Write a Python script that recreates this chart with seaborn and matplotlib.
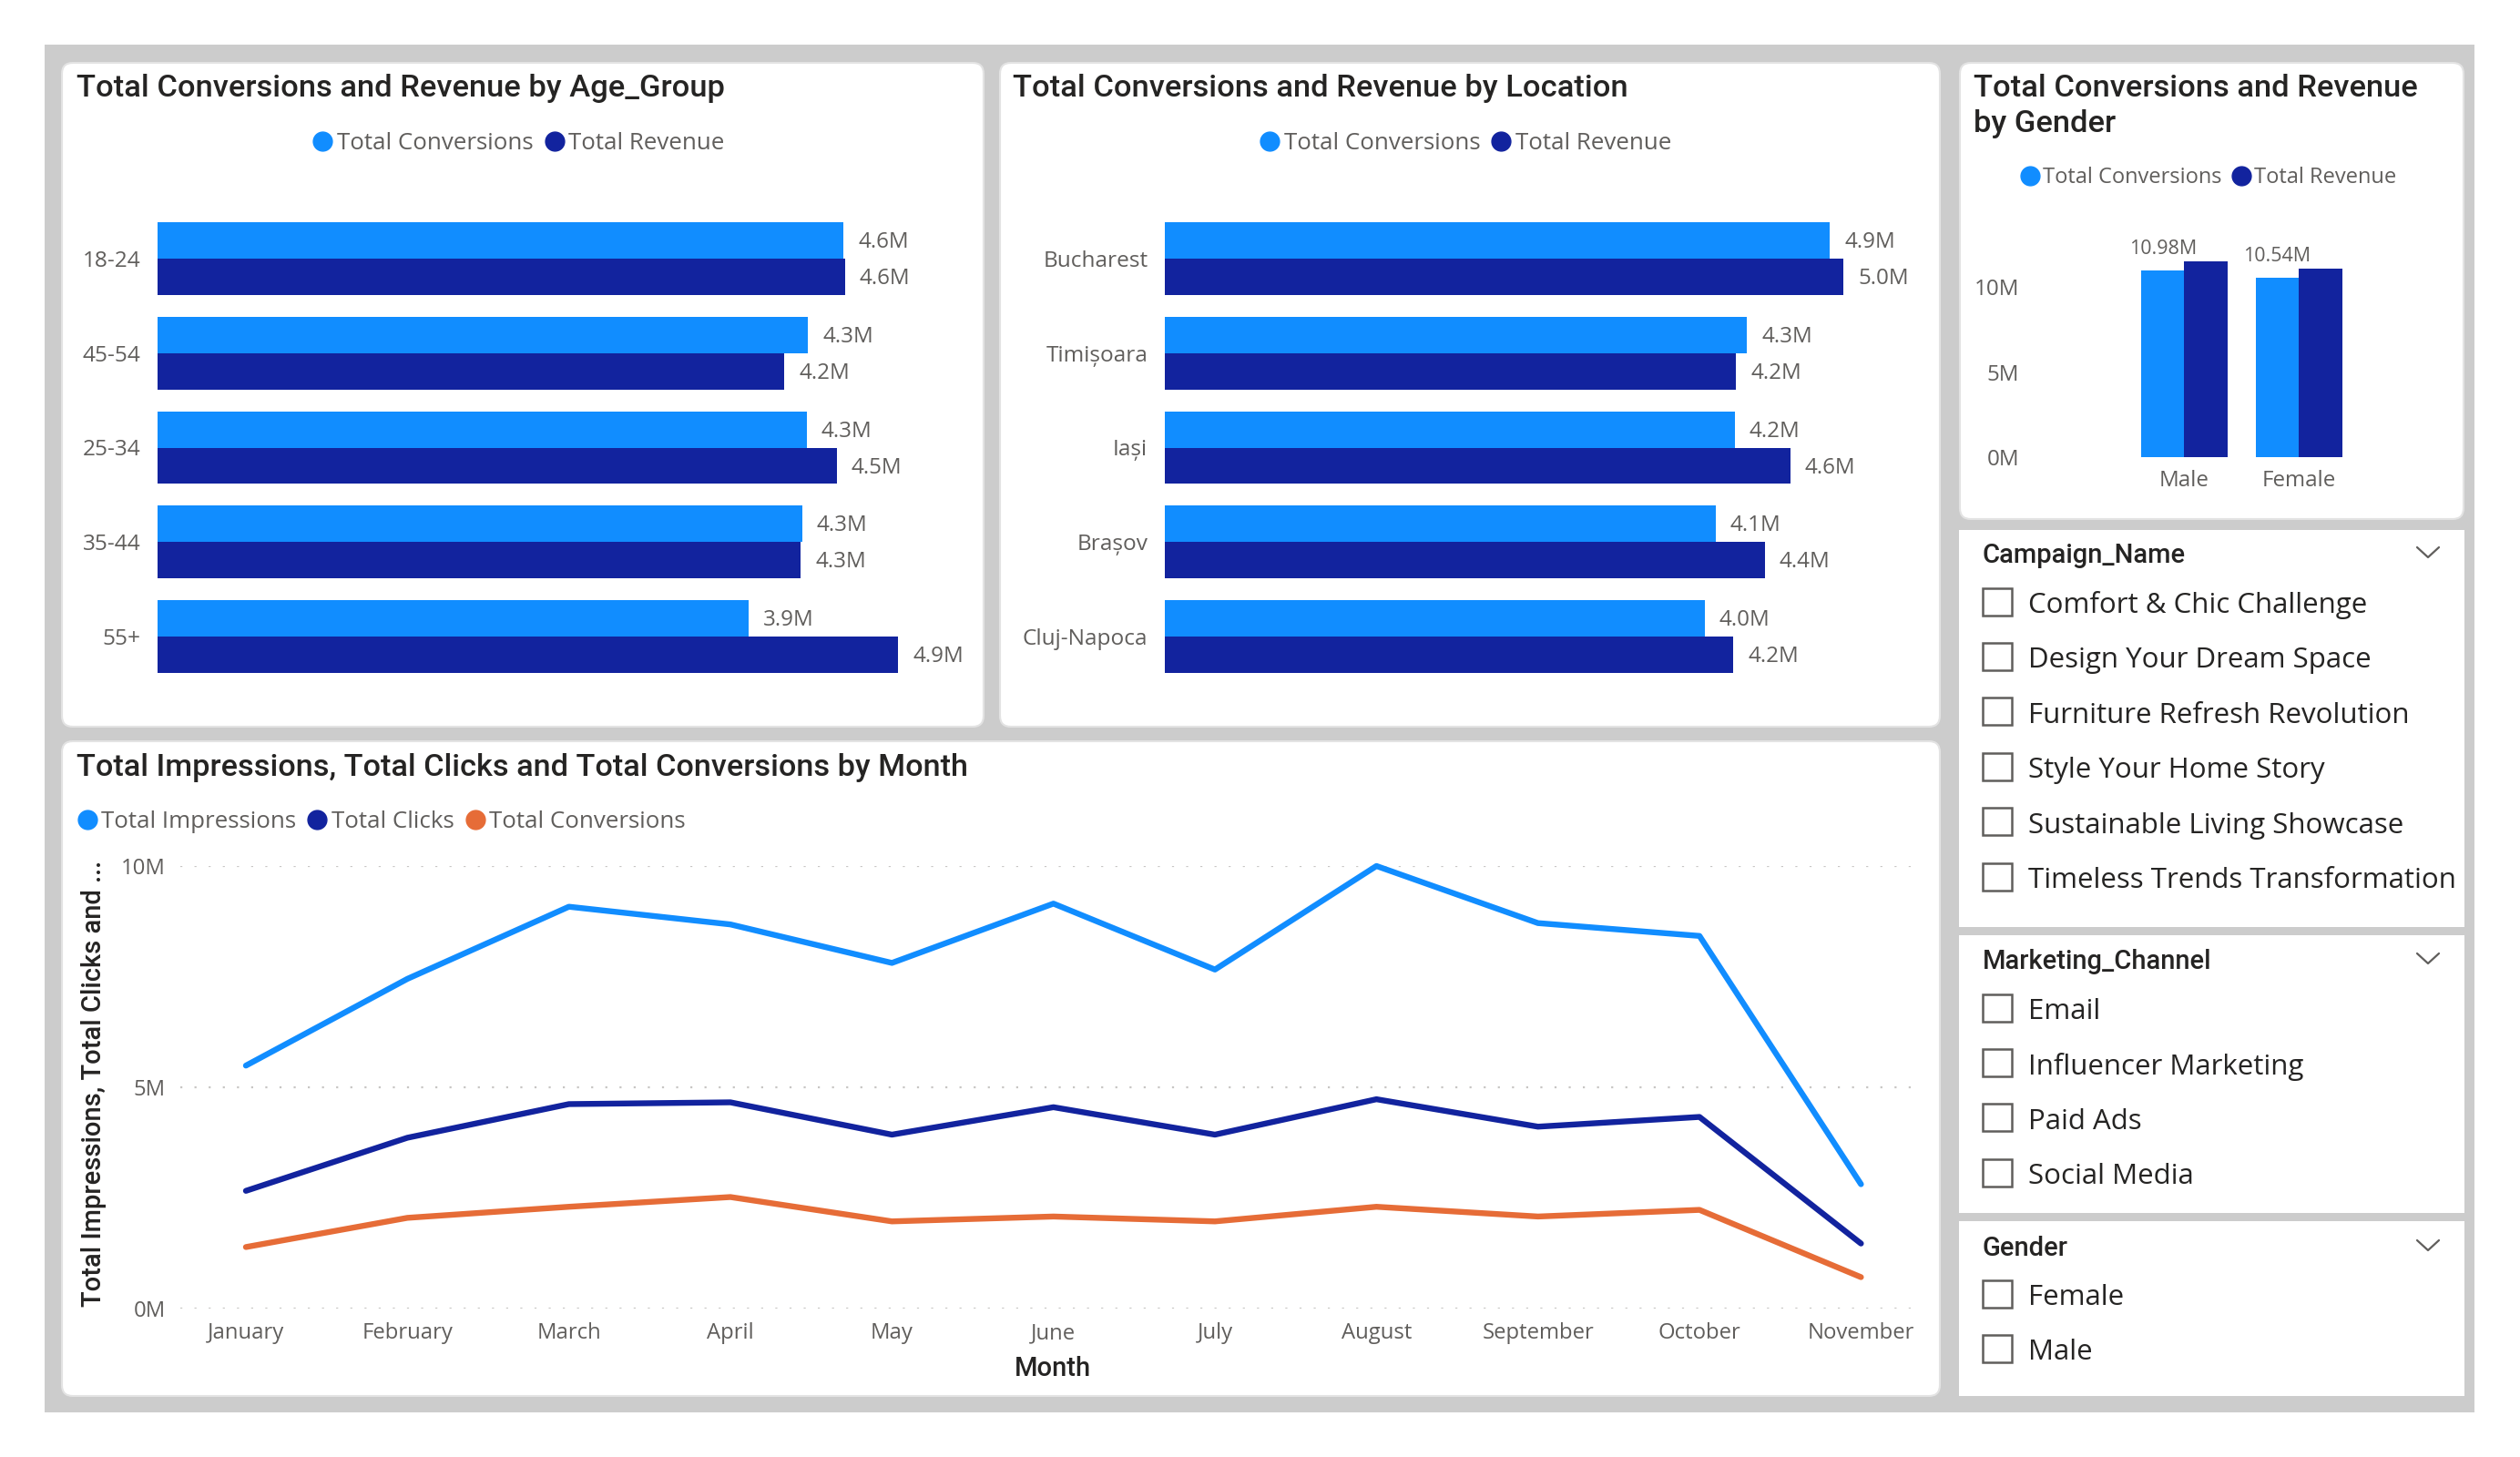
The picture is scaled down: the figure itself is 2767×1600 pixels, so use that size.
import matplotlib
matplotlib.use("Agg")
import matplotlib.pyplot as plt
from matplotlib.patches import Rectangle, FancyBboxPatch
from matplotlib.lines import Line2D
from matplotlib.ticker import FixedLocator, FuncFormatter
import pandas as pd
import seaborn as sns

# ---- data ----
age_groups = ["18-24", "45-54", "25-34", "35-44", "55+"]
age_conversions = [4.575, 4.34, 4.33, 4.30, 3.94]
age_revenue = [4.586, 4.18, 4.53, 4.29, 4.94]

locations = ["Bucharest", "Timișoara", "Iași", "Brașov", "Cluj-Napoca"]
loc_conversions = [4.90, 4.29, 4.20, 4.06, 3.98]
loc_revenue = [5.00, 4.21, 4.61, 4.42, 4.19]

genders = ["Male", "Female"]
gender_conversions = [10.98, 10.54]
gender_revenue = [11.53, 11.10]

months = ["January", "February", "March", "April", "May", "June", "July",
          "August", "September", "October", "November"]
impressions = [5.49, 7.45, 9.08, 8.68, 7.81, 9.15, 7.66, 10.0, 8.71, 8.42, 2.81]
clicks = [2.66, 3.86, 4.62, 4.66, 3.93, 4.55, 3.93, 4.73, 4.11, 4.33, 1.47]
conversions = [1.39, 2.05, 2.30, 2.52, 1.97, 2.08, 1.97, 2.30, 2.08, 2.23, 0.71]

campaign_names = ["Comfort & Chic Challenge", "Design Your Dream Space",
                  "Furniture Refresh Revolution", "Style Your Home Story",
                  "Sustainable Living Showcase", "Timeless Trends Transformation"]
channels = ["Email", "Influencer Marketing", "Paid Ads", "Social Media"]
gender_options = ["Female", "Male"]

# ---- style ----
BLUE, NAVY, ORANGE = "#118DFF", "#12239E", "#E66C37"
GRAY_TXT, DARK_TXT = "#605E5C", "#252423"
TITLE_FONT = ["Roboto", "DejaVu Sans"]
BODY_FONT = ["Open Sans", "DejaVu Sans"]
W, H = 2767, 1600

sns.set_theme(style="white")
plt.rcParams["font.family"] = BODY_FONT
fig = plt.figure(figsize=(W / 100, H / 100), dpi=100, facecolor="white")


def axes_px(x0, y0, x1, y1, **kw):
    return fig.add_axes([x0 / W, 1 - y1 / H, (x1 - x0) / W, (y1 - y0) / H], **kw)


bg = axes_px(0, 0, W, H)
bg.set_xlim(0, W)
bg.set_ylim(H, 0)
bg.axis("off")
bg.add_patch(Rectangle((49, 49), 2668, 1502, fc="#CCCCCC", ec="none"))

for x0, y0, x1, y1 in [(68, 69, 1080, 798), (1098, 69, 2130, 798),
                       (2152, 69, 2705, 570), (68, 814, 2130, 1533)]:
    bg.add_patch(FancyBboxPatch((x0 + 10, y0 + 10), x1 - x0 - 20, y1 - y0 - 20,
                                boxstyle="round,pad=10,rounding_size=12",
                                fc="white", ec="#E3E3E3", lw=1.5))
for x0, y0, x1, y1 in [(2151, 582, 2706, 1018), (2151, 1027, 2706, 1332), (2151, 1341, 2706, 1533)]:
    bg.add_patch(Rectangle((x0, y0), x1 - x0, y1 - y0, fc="white", ec="none"))


def title(x, y, s, size=24.8):
    bg.text(x, y, s, fontsize=size, color=DARK_TXT, family=TITLE_FONT, weight="medium",
            va="center", ha="left")


title(84, 97, "Total Conversions and Revenue by Age_Group")
title(1112, 97, "Total Conversions and Revenue by Location")
title(2167, 97, "Total Conversions and Revenue")
title(2167, 136, "by Gender")
title(84, 843, "Total Impressions, Total Clicks and Total Conversions by Month", size=24.65)


def dot_legend(labels, colors, anchor, loc, size):
    handles = [Line2D([], [], ls="none", marker="o", ms=15, color=c) for c in colors]
    leg = fig.legend(handles, labels, loc=loc, ncol=len(labels), frameon=False,
                     bbox_to_anchor=(anchor[0] / W, 1 - anchor[1] / H),
                     fontsize=size, labelcolor=GRAY_TXT, handletextpad=0.0,
                     columnspacing=0.3, borderpad=0, borderaxespad=0, handlelength=1.2)
    return leg


def hbars(cats, conv, rev, rect, xmax):
    ax = axes_px(*rect)
    df = pd.DataFrame({"cat": cats * 2, "value": list(conv) + list(rev),
                       "series": ["Total Conversions"] * len(cats) + ["Total Revenue"] * len(cats)})
    sns.barplot(df, y="cat", x="value", hue="series", order=cats,
                hue_order=["Total Conversions", "Total Revenue"],
                palette=[BLUE, NAVY], saturation=1, width=0.77, gap=0, legend=False,
                linewidth=0, ax=ax)
    for cont in ax.containers:
        for txt in ax.bar_label(cont, fmt=lambda v: f"{v:.1f}M", padding=11.5, fontsize=17.4, color=GRAY_TXT):
            txt.xyann = (11.5, -1.5)
    ax.set_xlim(0, xmax)
    ax.set_ylim(len(cats) - 0.5, -0.5)
    ax.set_xlabel("")
    ax.set_ylabel("")
    ax.xaxis.set_visible(False)
    ax.tick_params(axis="y", length=0, pad=13.5, labelsize=17.6, labelcolor=GRAY_TXT)
    sns.despine(ax=ax, left=True, bottom=True)
    ax.patch.set_alpha(0)
    return ax


hbars(age_groups, age_conversions, age_revenue, (173, 232, 1075, 751), 902 / 164.6)
hbars(locations, loc_conversions, loc_revenue, (1279, 232, 2125, 751), 846 / 149.0)
dot_legend(["Total Conversions", "Total Revenue"], [BLUE, NAVY], (567, 158), "center", 18.6)
dot_legend(["Total Conversions", "Total Revenue"], [BLUE, NAVY], (1607, 158), "center", 18.6)

# gender columns
ax_g = axes_px(2235, 260, 2650, 502)
df_g = pd.DataFrame({"cat": genders * 2, "value": gender_conversions + gender_revenue,
                     "series": ["Total Conversions"] * 2 + ["Total Revenue"] * 2})
sns.barplot(df_g, x="cat", y="value", hue="series", order=genders,
            hue_order=["Total Conversions", "Total Revenue"], palette=[BLUE, NAVY],
            saturation=1, width=0.753, gap=0, legend=False, linewidth=0, ax=ax_g)
ax_g.bar_label(ax_g.containers[0], fmt=lambda v: f"{v:.2f}M", padding=9.5, fontsize=15.4, color=GRAY_TXT)
ax_g.set_xlim(-1.3, 2.0)
ax_g.set_ylim(0, 242 / 18.65)
ax_g.yaxis.set_major_locator(FixedLocator([0, 5, 10]))
ax_g.yaxis.set_major_formatter(FuncFormatter(lambda v, p: f"{v:.0f}M"))
ax_g.set_xlabel("")
ax_g.set_ylabel("")
ax_g.tick_params(axis="both", length=0, labelsize=17.4, labelcolor=GRAY_TXT)
ax_g.tick_params(axis="y", pad=13)
ax_g.tick_params(axis="x", pad=10)
sns.despine(ax=ax_g, left=True, bottom=True)
ax_g.patch.set_alpha(0)
dot_legend(["Total Conversions", "Total Revenue"], [BLUE, NAVY], (2423, 195), "center", 17.0)

# monthly lines
ax_l = axes_px(198, 951, 2109, 1437)
df_l = pd.DataFrame({"Month": months * 3, "value": impressions + clicks + conversions,
                     "series": ["Total Impressions"] * 11 + ["Total Clicks"] * 11 + ["Total Conversions"] * 11})
sns.lineplot(df_l, x="Month", y="value", hue="series",
             hue_order=["Total Impressions", "Total Clicks", "Total Conversions"],
             palette=[BLUE, NAVY, ORANGE], lw=4.6, legend=False, errorbar=None, ax=ax_l, clip_on=False)
ax_l.set_xlim(-0.406, 10.37)
ax_l.set_ylim(0, 10)
ax_l.yaxis.set_major_locator(FixedLocator([0, 5, 10]))
ax_l.yaxis.set_major_formatter(FuncFormatter(lambda v, p: f"{v:.0f}M"))
ax_l.grid(axis="y", color="#C8C6C4", ls=(0, (1, 6)), lw=1.6)
ax_l.set_axisbelow(True)
ax_l.tick_params(axis="both", length=0, labelsize=17.2, labelcolor=GRAY_TXT)
ax_l.tick_params(axis="y", pad=11.5)
ax_l.tick_params(axis="x", pad=11)
sns.despine(ax=ax_l, left=True, bottom=True)
ax_l.patch.set_alpha(0)
ax_l.set_xlabel("")
ax_l.set_ylabel("")
bg.text(1156, 1503, "Month", fontsize=21, color=DARK_TXT, family=TITLE_FONT, weight="medium", ha="center", va="center")
bg.text(103, 1190, "Total Impressions, Total Clicks and ...", fontsize=21, color=DARK_TXT,
        family=TITLE_FONT, weight="medium", rotation=90, ha="center", va="center")
dot_legend(["Total Impressions", "Total Clicks", "Total Conversions"], [BLUE, NAVY, ORANGE],
           (80, 903), "center left", 18.6)


# slicers
def slicer(header, items, header_y, first_y, step):
    bg.text(2177, header_y, header, fontsize=21, color=DARK_TXT, family=TITLE_FONT,
            weight="medium", va="center", ha="left")
    bg.plot([2654, 2666, 2678], [header_y - 9, header_y + 2, header_y - 9], color=GRAY_TXT, lw=1.6)
    for i, item in enumerate(items):
        y = first_y + i * step
        bg.add_patch(Rectangle((2177, y - 16.5), 32, 30, fc="white", ec="#605E5C", lw=1.8))
        bg.text(2227, y + 3, item, fontsize=22.5, color=DARK_TXT, va="center", ha="left")


slicer("Campaign_Name", campaign_names, 610, 662, 60.4)
slicer("Marketing_Channel", channels, 1056, 1108, 60.4)
slicer("Gender", gender_options, 1371, 1422, 60.4)

fig.savefig("out.png", dpi=100, facecolor="white")
